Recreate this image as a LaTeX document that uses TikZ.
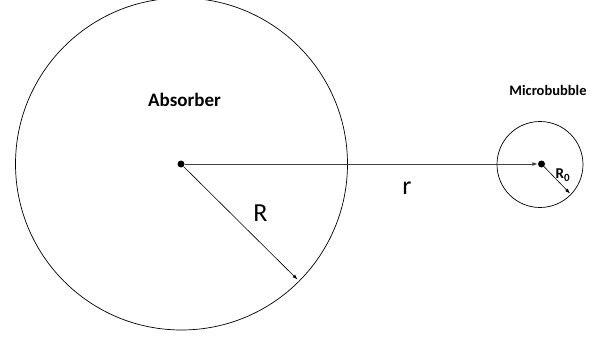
\documentclass[tikz,border=0pt]{standalone}
\usepackage{fontspec}
\setmainfont{Carlito}
\usetikzlibrary{arrows.meta}
\tikzset{
  ring/.style={draw=black, line width=0.7pt},
  centre/.style={circle, fill=black, inner sep=0pt, minimum size=7pt},
  radius arrow/.style={draw=black, line width=0.6pt, -{Latex[length=5pt,width=3.6pt]}},
  dist arrow/.style={draw=black!75, line width=1pt, -{Latex[length=5.5pt,width=4pt]}},
  bigsym/.style={font=\fontsize{26}{28}\selectfont, inner sep=0pt},
  boldlabel/.style={font=\bfseries, inner sep=0pt}
}
\begin{document}
\begin{tikzpicture}[x=1pt,y=-1pt]
\useasboundingbox (0,0) rectangle (606,337);
% absorber sphere
\draw[ring] (181.5,164) circle[radius=166];
% microbubble
\draw[ring] (540,164.5) circle[radius=43];
% centres
\node[centre] (ac) at (181,164) {};
\node[centre] (mc) at (541.5,164) {};
\coordinate (Rend) at (297.5,279.5);
\coordinate (R0end) at (570,193.5);
% connectors
\draw[dist arrow] (ac.east) -- (mc.west);
\draw[radius arrow] (ac) -- (Rend);
\draw[radius arrow] (mc) -- (R0end);
% labels
\node[boldlabel, font=\bfseries\fontsize{19}{21}\selectfont] (abs) at (184.5,99.5) {Absorber};
\node[boldlabel, font=\bfseries\fontsize{14.5}{16}\selectfont] (mb) at (548,90.5) {Microbubble};
\node[bigsym] (Rl) at (260.5,213.5) {R};
\node[bigsym] (rl) at (407,188) {r};
\node[boldlabel, font=\bfseries\fontsize{15}{17}\selectfont, anchor=west] (R0l) at (555.5,175.5) {R\raisebox{-3pt}{\fontsize{11}{12}\selectfont 0}};
\end{tikzpicture}
\end{document}
